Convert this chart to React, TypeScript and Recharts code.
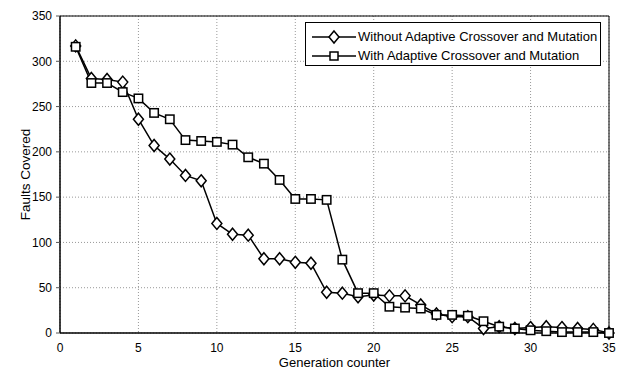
import React from 'react';
import { LineChart, Line, XAxis, YAxis, CartesianGrid, ReferenceLine, Legend } from 'recharts';

const generations = [1,2,3,4,5,6,7,8,9,10,11,12,13,14,15,16,17,18,19,20,21,22,23,24,25,26,27,28,29,30,31,32,33,34,35];
const withoutAdaptive = [317,281,280,277,236,207,192,174,168,121,109,108,82,82,78,77,45,44,40,42,41,41,31,21,18,18,5,7,5,6,7,6,5,4,0];
const withAdaptive = [316,276,276,266,259,243,236,213,212,211,208,194,187,169,148,148,147,81,44,44,29,28,27,20,20,19,13,7,5,3,2,1,1,1,0];
const xTicks = [0,5,10,15,20,25,30,35];
const yTicks = [0,50,100,150,200,250,300,350];
const seriesNames = ['Without Adaptive Crossover and Mutation', 'With Adaptive Crossover and Mutation'];

const data = generations.map((g, i) => ({ x: g, without: withoutAdaptive[i], with: withAdaptive[i] }));

const FONT = '"Liberation Sans", Arial, sans-serif';

const Diamond = (props: any) => {
  const { cx, cy } = props;
  if (cx == null || cy == null) return null;
  return <path d={`M${cx},${cy - 6}L${cx + 5},${cy}L${cx},${cy + 6}L${cx - 5},${cy}Z`} fill="#fff" stroke="#000" strokeWidth={1.5} />;
};
const Square = (props: any) => {
  const { cx, cy } = props;
  if (cx == null || cy == null) return null;
  return <rect x={cx - 4.2} y={cy - 4.2} width={8.4} height={8.4} fill="#fff" stroke="#000" strokeWidth={1.5} />;
};

const LegendBox = () => (
  <div style={{ position: 'relative', border: '1px solid #000', background: '#fff', width: 296, height: 44, fontFamily: FONT, fontSize: 13, color: '#000', boxSizing: 'border-box' }}>
    {seriesNames.map((name, i) => (
      <div key={name} style={{ position: 'absolute', left: 0, top: i === 0 ? 5 : 24, display: 'flex', alignItems: 'center', height: 17 }}>
        <svg width={50} height={16} style={{ marginLeft: 4 }}>
          <line x1={2} y1={8} x2={46} y2={8} stroke="#000" strokeWidth={1.5} />
          {i === 0 ? (
            <path d="M24,2L29,8L24,14L19,8Z" fill="#fff" stroke="#000" strokeWidth={1.5} />
          ) : (
            <rect x={20} y={4} width={8} height={8} fill="#fff" stroke="#000" strokeWidth={1.5} />
          )}
        </svg>
        <span style={{ marginLeft: -2, whiteSpace: 'nowrap' }}>{name}</span>
      </div>
    ))}
  </div>
);

export default function App() {
  return (
    <div style={{ position: 'absolute', left: 0, top: 0, width: 619, height: 371, background: '#fff' }}>
      <LineChart width={619} height={371} data={data} margin={{ top: 16, right: 10, bottom: 0, left: 0 }}>
        <CartesianGrid stroke="#999" strokeDasharray="1 2" />
        <XAxis
          dataKey="x"
          type="number"
          domain={[0, 35]}
          ticks={xTicks}
          interval={0}
          height={38}
          stroke="#000"
          strokeWidth={1.5}
          tickLine={false}
          tickMargin={4}
          tick={{ fill: '#000', fontSize: 12, fontFamily: FONT }}
          label={{ value: 'Generation counter', position: 'insideBottom', offset: 4, style: { fill: '#000', fontSize: 13, fontFamily: FONT } }}
        />
        <YAxis
          type="number"
          domain={[0, 350]}
          ticks={yTicks}
          interval={0}
          width={60}
          stroke="#000"
          strokeWidth={1.5}
          tickLine={{ stroke: '#555', strokeWidth: 1 }}
          tickSize={4}
          tickMargin={4}
          tick={{ fill: '#000', fontSize: 12, fontFamily: FONT }}
          label={{ value: 'Faults Covered', angle: -90, position: 'insideLeft', offset: 25, style: { fill: '#000', fontSize: 13.5, fontFamily: FONT, textAnchor: 'middle' } }}
        />
        <ReferenceLine y={350} stroke="#000" strokeWidth={1} />
        <ReferenceLine x={35} stroke="#000" strokeWidth={1} />
        <Legend layout="horizontal" verticalAlign="middle" align="center" content={<LegendBox />} wrapperStyle={{ position: 'absolute', left: 305, top: 22, width: 297, height: 45 }} />
        <Line dataKey="without" stroke="#000" strokeWidth={1.5} dot={<Diamond />} isAnimationActive={false} legendType="diamond" />
        <Line dataKey="with" stroke="#000" strokeWidth={1.5} dot={<Square />} isAnimationActive={false} legendType="square" />
      </LineChart>
    </div>
  );
}
